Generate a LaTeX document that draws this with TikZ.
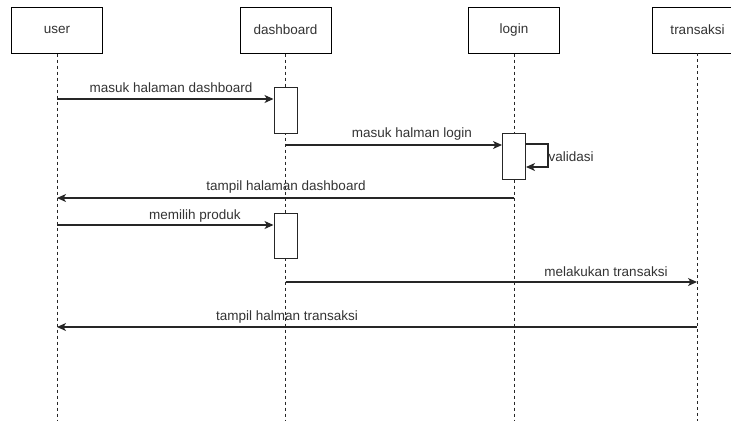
\documentclass[tikz,border=0pt]{standalone}
\usepackage{fontspec}
\setmainfont{Liberation Sans}
\usetikzlibrary{arrows.meta}
\begin{document}
\begin{tikzpicture}[x=1pt,y=-1pt,
  txt/.style={font=\fontsize{13.5}{16}\selectfont, text=black!80},
  head/.style={txt, draw=black, line width=1pt, fill=white,
    minimum width=91pt, minimum height=46pt, inner sep=0pt},
  lifeline/.style={draw=black!85, line width=1pt, dash pattern=on 3pt off 3pt},
  act/.style={draw=black!85, line width=1pt, fill=white,
    minimum width=23pt, inner sep=0pt},
  msg/.style={draw=black!85, line width=1.2pt,
    -{Stealth[length=9pt,width=8pt,inset=2.5pt]}},
  lbl/.style={txt, inner sep=0pt}
]
\useasboundingbox (0,0) rectangle (731,421);

% lifeline heads
\node[head] (user) at (57,30) {user};
\node[head] (dashboard) at (285.5,30) {dashboard};
\node[head] (login) at (514,30) {login};
\node[head, inner xsep=0pt, anchor=west, minimum width=79pt] (transaksi) at (651.5,30)
  {\makebox[79pt][l]{\makebox[91pt]{transaksi}}};
\coordinate (tTop) at (697,53);

% end points of the lifelines
\coordinate (uEnd) at (57,421);
\coordinate (dEnd) at (285.5,421);
\coordinate (lEnd) at (514,421);
\coordinate (tEnd) at (697,421);

% dashed lifelines
\draw[lifeline] (user.south) -- (uEnd);
\draw[lifeline] (dashboard.south) -- (dEnd);
\draw[lifeline] (login.south) -- (lEnd);
\draw[lifeline] (tTop) -- (tEnd);

% activation bars
\node[act, minimum height=46pt] (dashA) at (285.5,110) {};
\node[act, minimum height=46pt] (loginA) at (514,156) {};
\node[act, minimum height=45pt] (dashB) at (285.5,235.5) {};

% messages
\draw[msg] (user.south |- 0,99) -- (dashA.west |- 0,99);
\node[lbl] (m1) at (171,88) {masuk halaman dashboard};

\draw[msg] (dashboard.south |- 0,145) -- (loginA.west |- 0,145);
\node[lbl] (m2) at (412,134) {masuk halman login};

\draw[msg] (loginA.east |- 0,144) -- ++(22,0) -- ++(0,23) -- (loginA.east |- 0,167);
\node[lbl, anchor=west] (m3) at (548.5,157) {validasi};

\draw[msg] (login.south |- 0,198) -- (user.south |- 0,198);
\node[lbl] (m4) at (286,187) {tampil halaman dashboard};

\draw[msg] (user.south |- 0,225) -- (dashB.west |- 0,225);
\node[lbl] (m5) at (195,216) {memilih produk};

\draw[msg] (dashboard.south |- 0,282) -- (tTop |- 0,282);
\node[lbl] (m6) at (606,271.5) {melakukan transaksi};

\draw[msg] (tTop |- 0,327) -- (user.south |- 0,327);
\node[lbl] (m7) at (287,317.5) {tampil halman transaksi};
\end{tikzpicture}
\end{document}
